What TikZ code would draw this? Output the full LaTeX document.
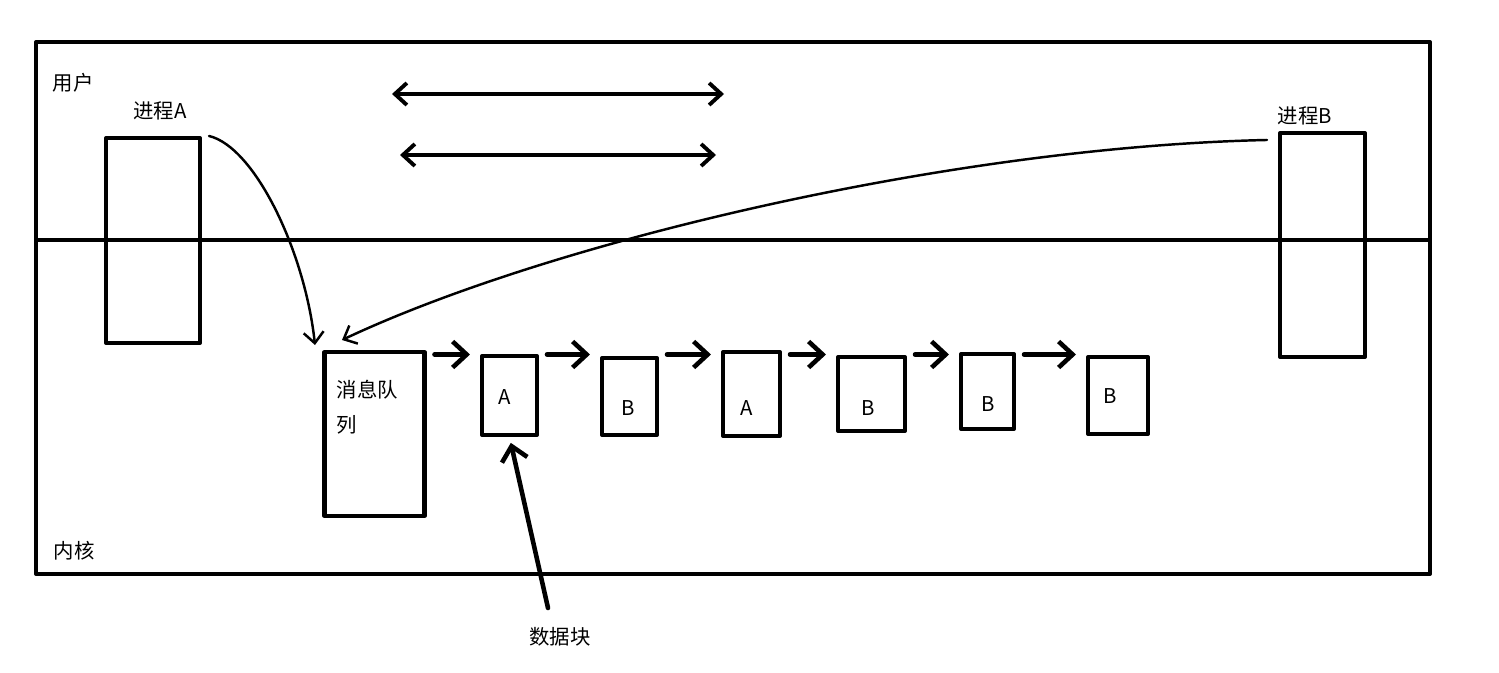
\documentclass[tikz,border=0pt]{standalone}
\usepackage{fontspec}
\setmainfont{Noto Sans CJK SC}
\usepackage{tikz}
\usetikzlibrary{arrows.meta}
\usetikzlibrary{positioning}
\tikzset{
	>={Straight Barb[length=1.4mm, width=2.6mm]},
	frame/.style={black, line width=1.15pt},
	box/.style={draw=black, line width=1.15pt, inner sep=0pt},
	link/.style={black, line width=1.3pt, ->, line cap=round},
	twoway/.style={black, line width=1.1pt, <->, >={Straight Barb[length=1.2mm, width=2.2mm]}, line cap=round},
	sendcurve/.style={black, line width=0.7pt, ->, >={Straight Barb[length=1.1mm, width=2.0mm]}, line cap=round},
	labeltext/.style={font=\fontsize{5.8pt}{10pt}\selectfont, inner sep=0pt},
}

\begin{document}
\begin{tikzpicture}[line join=round]
		
		\useasboundingbox (0,0) rectangle (14.99,6.72);
		
		% ---- Outer frame and user/kernel divider ----
		\draw[frame] (0.36,0.98) rectangle (14.30,6.30);
		\coordinate (divL) at (0.34,4.32);
		\coordinate (divR) at (14.30,4.32);
		\draw[frame] (divL) -- (divR);
		
		\node[labeltext] (user) at (0.73,5.89) {用户};
		\node[labeltext] (kernel) at (0.74,1.21) {内核};
		
		% ---- Processes ----
		\node[box, minimum width=0.94cm, minimum height=2.05cm] (pA) at (1.53,4.315) {};
		\node[box, minimum width=0.85cm, minimum height=2.24cm] (pB) at (13.225,4.27) {};
		\node[labeltext] (pAname) at (1.60,5.61) {进程A};
		\node[labeltext] (pBname) at (13.05,5.56) {进程B};
		
		% ---- Message queue ----
		\node[box, minimum width=1.00cm, minimum height=1.64cm] (queue) at (3.745,2.38) {};
		\node[labeltext, anchor=west, align=left] (qname) at (3.36,2.645) {消息队\\列};
		
		% ---- Data blocks ----
		\node[box, minimum width=0.55cm, minimum height=0.79cm] (blk1) at (5.095,2.765) {};
		\node[box, minimum width=0.55cm, minimum height=0.77cm] (blk2) at (6.295,2.755) {};
		\node[box, minimum width=0.57cm, minimum height=0.84cm] (blk3) at (7.515,2.78) {};
		\node[box, minimum width=0.67cm, minimum height=0.74cm] (blk4) at (8.715,2.78) {};
		\node[box, minimum width=0.53cm, minimum height=0.75cm] (blk5) at (9.875,2.805) {};
		\node[box, minimum width=0.60cm, minimum height=0.77cm] (blk6) at (11.18,2.765) {};
		
		\node[labeltext] (t1) at (5.05,2.75) {A};
		\node[labeltext] (t2) at (6.28,2.64) {B};
		\node[labeltext] (t3) at (7.47,2.64) {A};
		\node[labeltext] (t4) at (8.68,2.64) {B};
		\node[labeltext] (t5) at (9.88,2.68) {B};
		\node[labeltext] (t6) at (11.10,2.76) {B};
		
		% ---- Chain of blocks ----
		\coordinate (chainY) at (0,3.175);
		\foreach \from/\to in {queue/blk1, blk1/blk2, blk2/blk3, blk3/blk4, blk4/blk5, blk5/blk6}
		\draw[link, shorten <=0.8mm, shorten >=1.0mm] (\from.east |- chainY) -- (\to.west |- chainY);
		
		% ---- Two-way arrows ----
		\coordinate (u1L) at (3.92,5.78);
		\coordinate (u1R) at (7.24,5.78);
		\coordinate (u2L) at (4.00,5.17);
		\coordinate (u2R) at (7.16,5.17);
		\draw[twoway] (u1L) -- (u1R);
		\draw[twoway] (u2L) -- (u2R);
		
		% ---- Processes send into the queue ----
		\coordinate (qinA) at (3.15,3.27);
		\coordinate (qinB) at (3.42,3.32);
		\draw[sendcurve] ([xshift=0.7mm]pA.north east) .. controls (2.55,5.25) and (3.05,4.2) .. (qinA);
		\draw[sendcurve] ([xshift=-1.1mm, yshift=-0.9mm]pB.north west) .. controls (9.5,5.25) and (5.5,4.3) .. (qinB);
		
		% ---- Data block callout ----
		\node[labeltext] (dname) at (5.60,0.35) {数据块};
		\coordinate (dtail) at (5.48,0.64);
		\draw[link, shorten >=0.6mm] (dtail) -- (blk1.south);
		
	\end{tikzpicture}
\end{document}
